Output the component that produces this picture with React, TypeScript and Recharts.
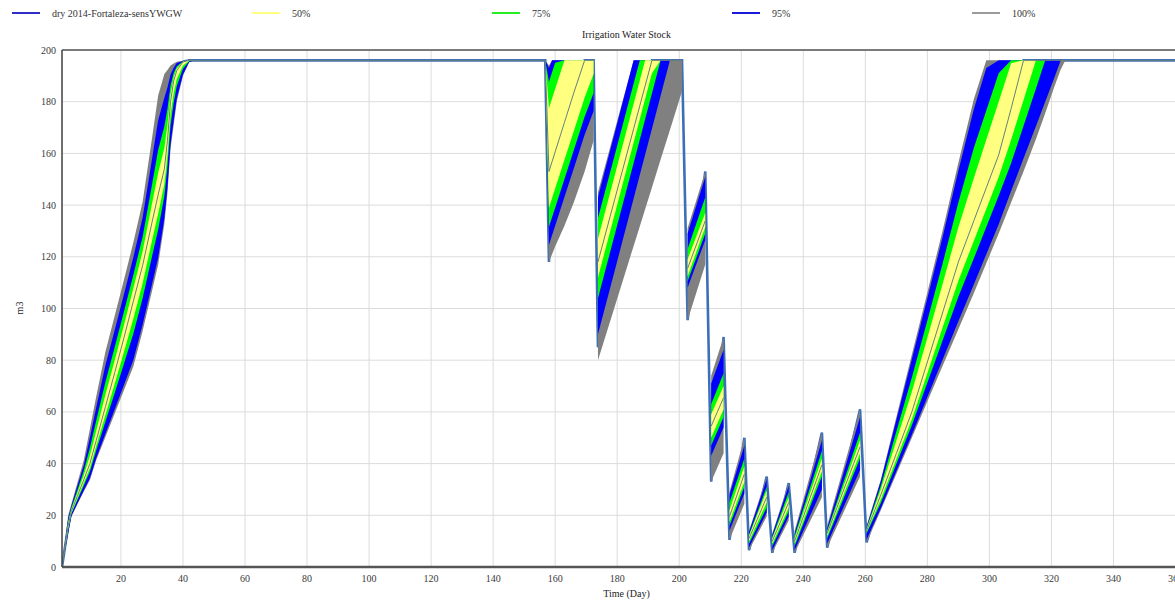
import React from 'react';
import { ComposedChart, Area, Line, XAxis, YAxis, CartesianGrid, ReferenceLine } from 'recharts';

const FONT = '"Liberation Serif", "Times New Roman", serif';

const xTicks = [20, 40, 60, 80, 100, 120, 140, 160, 180, 200, 220, 240, 260, 280, 300, 320, 340, 360];
const yTicks = [0, 20, 40, 60, 80, 100, 120, 140, 160, 180, 200];

const legendItems = [
  { label: 'dry 2014-Fortaleza-sensYWGW', color: '#2f2fc8' },
  { label: '50%', color: '#ffff80' },
  { label: '75%', color: '#22ee22' },
  { label: '95%', color: '#1a1ad8' },
  { label: '100%', color: '#9a9a9a' },
];

// time (day); null rows separate the pieces of the envelope
const days = [
  1, 3, 4, 6, 8, 10, 12, 15, 18, 21, 24, 27, 30, 32, 34, 35, 36, 37, 38, 40, 42, 44,
  156.8, 158, 159, 160, 163, 166, 169.5, 172.4,
  173.1,
  173.8, 180, 185.3, 187.3, 189, 191.2, 194, 197, 200.9,
  201.8,
  202.7, 208.4,
  209.3,
  210.3, 214.3,
  215.3,
  216.2, 221,
  221.8,
  222.5, 228.2,
  229.1,
  230, 235.3,
  236.2,
  237.2, 246,
  246.9,
  247.7, 258.3,
  259.4,
  260.4, 265, 270, 275, 280, 285, 290, 295, 299, 303, 307, 311, 315, 318, 321, 323, 324.5, 365,
];

const grayLo = [
  0, 12.9, 19.4, 24.4, 29.1, 33.7, 41.2, 50.3, 59.4, 68.5, 77.6, 91.3, 106.7, 116.9, 132.7, 144.7, 161.8, 170.9, 180, 190, 195.3, 196,
  196, 118, 121, 124, 132, 141, 153, 165,
  null,
  80, 103.8, 124.2, 131.8, 138.4, 146.8, 157.6, 169.1, 184,
  null,
  95.5, 117,
  null,
  33, 44,
  null,
  10.5, 24.5,
  null,
  6.5, 19.5,
  null,
  5.5, 18,
  null,
  5.5, 27,
  null,
  7.5, 35,
  null,
  9.5, 22, 36, 50, 64, 78, 92, 106, 117.5, 129, 141, 153, 165.5, 175.5, 186, 192.5, 196, 196,
];

const grayHi = [
  0, 20, 24.3, 32.8, 41.2, 53.5, 65.8, 83.3, 97.2, 111.2, 125.5, 141.3, 165.7, 182.4, 190.7, 192.3, 194, 194.8, 195.5, 195.8, 196, 196,
  196, 194, 196, 196, 196, 196, 196, 196,
  null,
  145, 172.5, 196, 196, 196, 196, 196, 196, 196,
  null,
  131, 153,
  null,
  74, 89,
  null,
  29, 50,
  null,
  14, 35,
  null,
  13, 32.5,
  null,
  14, 52,
  null,
  16, 61,
  null,
  16, 33.8, 58, 82.2, 106.2, 130.6, 156.4, 181, 196, 196, 196, 196, 196, 196, 196, 196, 196, 196,
];

const blueLo = [
  0, 13.2, 19.6, 24.7, 29.6, 34.3, 42, 51.5, 61, 70.5, 80.1, 93.8, 109.3, 119.6, 134.8, 146.7, 163.6, 172.6, 181.2, 190.5, 195.4, 196,
  196, 124.6, 128.3, 132, 143.1, 154.2, 167.2, 176.4,
  null,
  90, 118.3, 142.6, 151.7, 159.5, 169.5, 182.3, 196, 196,
  null,
  108, 126.5,
  null,
  43, 54,
  null,
  14, 28.5,
  null,
  7.5, 21,
  null,
  6.5, 19.5,
  null,
  6.5, 30,
  null,
  9, 37.5,
  null,
  10.5, 22.7, 37, 51.2, 65.8, 80.5, 95.1, 109.4, 121, 132.6, 145.5, 158, 170.5, 180, 189.5, 196, 196, 196,
];

const blueHi = [
  0, 19, 23.6, 31.5, 39.3, 50.1, 61.5, 78, 91.7, 105.6, 119.8, 135.2, 157.6, 172.8, 181.5, 185.5, 190.5, 193.1, 195, 195.7, 196, 196,
  196, 193, 196, 196, 196, 196, 196, 196,
  null,
  143, 171.6, 196, 196, 196, 196, 196, 196, 196,
  null,
  129, 151,
  null,
  71, 84,
  null,
  28, 47,
  null,
  13.5, 34,
  null,
  12.5, 31.5,
  null,
  13, 49,
  null,
  15, 58,
  null,
  15.5, 33.3, 56.9, 80.4, 104, 128, 153.3, 177.2, 193, 196, 196, 196, 196, 196, 196, 196, 196, 196,
];

const greenLo = [
  0, 14.5, 20.5, 26, 31.4, 36.9, 45, 56.2, 67.3, 78.7, 90.2, 104, 120, 130.5, 143.4, 154.9, 170.9, 179.5, 186, 192.7, 195.6, 196,
  196, 131.6, 135.3, 139, 150.1, 161.2, 174.2, 183.4,
  null,
  104, 132.2, 156.3, 165.4, 173.2, 183.2, 196, 196, 196,
  null,
  110.5, 129,
  null,
  47, 58,
  null,
  16, 31,
  null,
  9, 23,
  null,
  8, 21.5,
  null,
  8, 35,
  null,
  11, 42,
  null,
  13, 24.8, 39.8, 54.8, 71.3, 87.9, 104.5, 119.4, 131.5, 143.6, 156.2, 170.6, 185, 196, 196, 196, 196, 196,
];

const greenHi = [
  0, 17.8, 22.8, 29.9, 37.1, 46.1, 56.5, 71.6, 85.1, 98.9, 113, 127.8, 147.8, 161.3, 170.5, 177.3, 186.3, 191.1, 193.6, 195.6, 196, 196,
  196, 187.7, 191.4, 195.1, 196, 196, 196, 196,
  null,
  135, 163, 187, 196, 196, 196, 196, 196, 196,
  null,
  123, 143,
  null,
  63, 75,
  null,
  25, 42,
  null,
  12.5, 31,
  null,
  11.5, 29,
  null,
  12, 45,
  null,
  14, 52,
  null,
  15, 31.4, 52.4, 73.3, 95.4, 117.8, 141, 162.2, 176.6, 191, 196, 196, 196, 196, 196, 196, 196, 196,
];

const yellowLo = [
  0, 15.2, 20.9, 26.7, 32.5, 38.3, 46.7, 58.8, 70.9, 83.3, 96, 109.8, 126.1, 136.7, 148.2, 159.5, 175.1, 183.4, 188.8, 194, 195.8, 196,
  196, 139, 142.7, 146.4, 157.5, 168.6, 181.6, 190.8,
  null,
  112, 140.1, 164.2, 173.3, 181, 191, 196, 196, 196,
  null,
  112.5, 131.5,
  null,
  50, 61,
  null,
  17.5, 33,
  null,
  10, 25,
  null,
  9, 23,
  null,
  9, 37,
  null,
  12, 44,
  null,
  13.5, 26.2, 41.7, 57.2, 75, 92.9, 110.7, 126.2, 138.5, 150.9, 165.3, 180.6, 196, 196, 196, 196, 196, 196,
];

const yellowHi = [
  0, 16.9, 22.1, 28.7, 35.4, 43, 52.5, 66.7, 80, 93.7, 107.8, 122.1, 140.4, 152.4, 162.1, 171, 183.1, 189.5, 192.8, 195.5, 196, 196,
  196, 177.5, 181.2, 184.9, 196, 196, 196, 196,
  null,
  127, 155.1, 179.2, 188.3, 196, 196, 196, 196, 196,
  null,
  119, 137,
  null,
  59, 70,
  null,
  22, 39,
  null,
  12, 29.5,
  null,
  11, 27,
  null,
  11, 42,
  null,
  13.5, 49,
  null,
  14.5, 30, 48.8, 67.8, 88.7, 109.9, 131.4, 150.5, 165.3, 180, 194.9, 196, 196, 196, 196, 196, 196, 196,
];

const median = [
  0, 16, 21.5, 27.6, 33.7, 40, 48.8, 62, 75.2, 88.8, 102.8, 116.7, 133.2, 144, 154, 165, 180, 188, 192, 195.4, 196, 196,
  196, 153, 156.8, 160.6, 172, 183.4, 196, 196,
  null,
  118, 145.8, 169.5, 178.5, 186.1, 196, 196, 196, 196,
  null,
  115.5, 134,
  null,
  54.5, 65.5,
  null,
  19.5, 36,
  null,
  11, 27,
  null,
  10, 25,
  null,
  10, 39.5,
  null,
  13, 46.5,
  null,
  14, 27.9, 43.9, 60, 79.3, 98.7, 118, 134, 146.7, 159.4, 177.3, 196, 196, 196, 196, 196, 196, 196,
];

const baseRun = [
  0, 16, 21.5, 27.6, 33.7, 40, 48.8, 62, 75.2, 88.8, 102.8, 116.7, 133.2, 144, 154, 165, 180, 188, 192, 195.4, 196, 196,
  196, 118, 156.8, 160.6, 172, 183.4, 196, 196,
  null,
  85, 145.8, 169.5, 178.5, 186.1, 196, 196, 196, 196,
  null,
  95.5, 153,
  null,
  33, 89,
  null,
  10.5, 50,
  null,
  6.5, 35,
  null,
  5.5, 32.5,
  null,
  5.5, 52,
  null,
  7.5, 61,
  null,
  9.5, 27.9, 43.9, 60, 79.3, 98.7, 118, 134, 146.7, 159.4, 177.3, 196, 196, 196, 196, 196, 196, 196,
];

const rows = days.map((d, i) => ({
  day: d,
  gl: grayLo[i], gh: grayHi[i],
  bl: blueLo[i], bh: blueHi[i],
  nl: greenLo[i], nh: greenHi[i],
  yl: yellowLo[i], yh: yellowHi[i],
  m: median[i],
  base: baseRun[i],
}));

const range = (lo: string, hi: string) => (r: any) => (r[lo] == null ? null : [r[lo], r[hi]]);
const grayKey = range('gl', 'gh');
const blueKey = range('bl', 'bh');
const greenKey = range('nl', 'nh');
const yellowKey = range('yl', 'yh');

const tickStyle = { fontSize: 10, fontFamily: FONT, fill: '#3a3a3a' };

export default function App() {
  return (
    <div style={{ position: 'absolute', left: 0, top: 0, width: 1175, height: 600, overflow: 'hidden', background: '#fff', fontFamily: FONT }}>
      <style>{`.recharts-wrapper text, .recharts-text { font-family: ${FONT} !important; }`}</style>
      <ComposedChart width={1220} height={600} data={rows} margin={{ top: 50, right: 29, bottom: 0, left: 0 }} style={{ fontFamily: FONT }}>
        <CartesianGrid stroke="#dcdcdc" strokeWidth={1} />
        <XAxis
          dataKey="day"
          type="number"
          domain={[1, 365]}
          ticks={xTicks}
          interval={0}
          allowDataOverflow
          height={33}
          tickSize={0}
          tickMargin={8}
          axisLine={{ stroke: '#555', strokeWidth: 2.5 }}
          tick={tickStyle}
        />
        <YAxis
          type="number"
          domain={[0, 200]}
          ticks={yTicks}
          interval={0}
          allowDataOverflow
          width={62}
          tickSize={0}
          tickMargin={6}
          axisLine={{ stroke: '#444', strokeWidth: 1.5 }}
          tick={tickStyle}
        />
        <ReferenceLine y={200} stroke="#555" strokeWidth={1.5} />
        <Area dataKey="base" type="linear" stroke="#3d6fb6" strokeWidth={2.6} fill="none" fillOpacity={0} connectNulls dot={false} activeDot={false} isAnimationActive={false} />
        <Area dataKey={grayKey} type="linear" stroke="none" fill="#808080" fillOpacity={1} dot={false} activeDot={false} isAnimationActive={false} />
        <Area dataKey={blueKey} type="linear" stroke="none" fill="#0000ff" fillOpacity={1} dot={false} activeDot={false} isAnimationActive={false} />
        <Area dataKey={greenKey} type="linear" stroke="none" fill="#00ff00" fillOpacity={1} dot={false} activeDot={false} isAnimationActive={false} />
        <Area dataKey={yellowKey} type="linear" stroke="none" fill="#ffff80" fillOpacity={1} dot={false} activeDot={false} isAnimationActive={false} />
        <Line dataKey="m" type="linear" stroke="#65807f" strokeWidth={1} dot={false} activeDot={false} isAnimationActive={false} />
      </ComposedChart>

      {legendItems.map((it, i) => (
        <div key={it.label} style={{ position: 'absolute', left: 12 + i * 240, top: 6, height: 14, display: 'flex', alignItems: 'center', fontSize: 10, color: '#333', whiteSpace: 'nowrap' }}>
          <span style={{ display: 'inline-block', width: 28, height: 2, background: it.color, marginRight: 12 }} />
          <span>{it.label}</span>
        </div>
      ))}
      <div style={{ position: 'absolute', left: 62, width: 1129, top: 29, textAlign: 'center', fontSize: 10, color: '#222', lineHeight: '12px' }}>
        Irrigation Water Stock
      </div>
      <div style={{ position: 'absolute', left: 62, width: 1129, top: 588, textAlign: 'center', fontSize: 10, color: '#222', lineHeight: '12px' }}>
        Time (Day)
      </div>
      <div style={{ position: 'absolute', left: 20, top: 308, width: 0, height: 0 }}>
        <div style={{ position: 'absolute', transform: 'translate(-50%, -50%) rotate(-90deg)', fontSize: 10, color: '#222', lineHeight: '12px', whiteSpace: 'nowrap' }}>
          m3
        </div>
      </div>
    </div>
  );
}
